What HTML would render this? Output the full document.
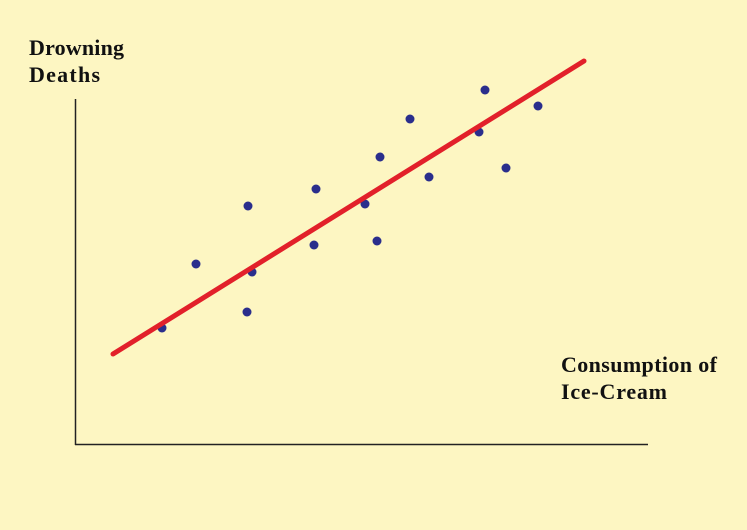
<!DOCTYPE html>
<html><head><style>
body{margin:0;background:#fdf6c2;}
svg{display:block}
text{font-family:"Liberation Serif",serif;font-weight:bold;font-size:22px;fill:#111}
</style></head><body>
<svg width="747" height="530" viewBox="0 0 747 530">
<rect width="747" height="530" fill="#fdf6c2"/>
<line x1="75.5" y1="99" x2="75.5" y2="445" stroke="#222" stroke-width="1.5"/>
<line x1="75" y1="444.5" x2="648" y2="444.5" stroke="#222" stroke-width="1.5"/>
<g fill="#2a2e8c">
<circle cx="162" cy="328" r="4.5"/><circle cx="196" cy="264" r="4.5"/>
<circle cx="248" cy="206" r="4.5"/><circle cx="252" cy="272" r="4.5"/>
<circle cx="247" cy="312" r="4.5"/><circle cx="316" cy="189" r="4.5"/>
<circle cx="314" cy="245" r="4.5"/><circle cx="365" cy="204" r="4.5"/>
<circle cx="380" cy="157" r="4.5"/><circle cx="377" cy="241" r="4.5"/>
<circle cx="410" cy="119" r="4.5"/><circle cx="429" cy="177" r="4.5"/>
<circle cx="479" cy="132" r="4.5"/><circle cx="485" cy="90" r="4.5"/>
<circle cx="506" cy="168" r="4.5"/><circle cx="538" cy="106" r="4.5"/>
</g>
<line x1="113" y1="354" x2="584" y2="61" stroke="#e2202a" stroke-width="5" stroke-linecap="round"/>
<text x="29" y="55" textLength="95">Drowning</text>
<text x="29" y="82" textLength="71">Deaths</text>
<text x="561" y="372" textLength="156">Consumption of</text>
<text x="561" y="399" textLength="106">Ice-Cream</text>
</svg>
</body></html>
